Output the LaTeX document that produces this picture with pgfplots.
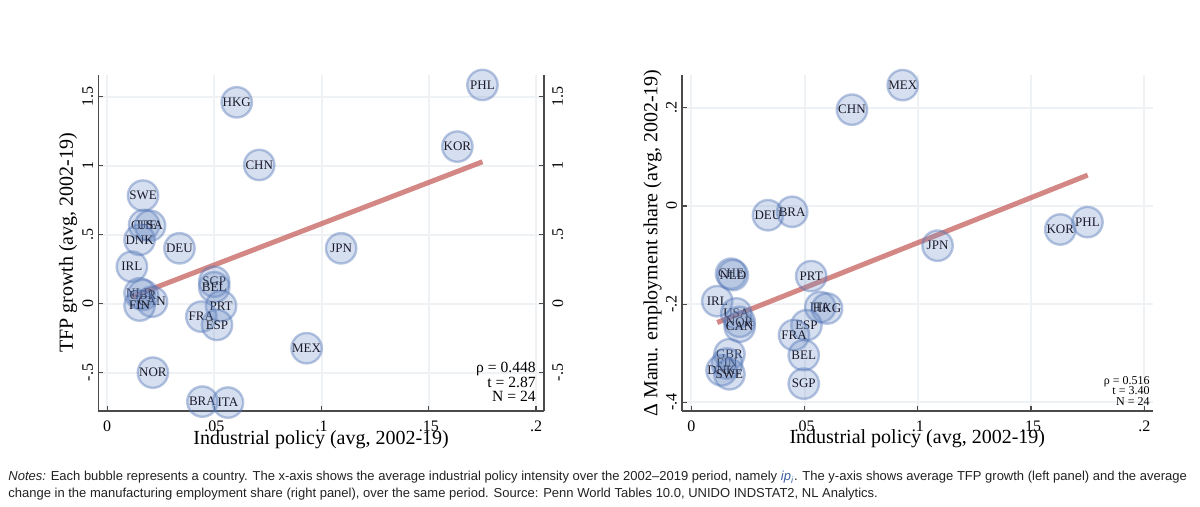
\documentclass[border=0pt]{standalone}
\usepackage{pgfplots}
\pgfplotsset{compat=1.18}
\usepackage{pgfplotstable}
\usepackage{fontspec}
\setmainfont{Liberation Serif}
\newfontfamily\notesfont{Liberation Sans}
\definecolor{bfill}{HTML}{6B8CC4}
\definecolor{bedge}{HTML}{5577B8}
\definecolor{fitred}{HTML}{C0504D}
\definecolor{gridc}{HTML}{EFF2F5}
\definecolor{axc}{HTML}{4A4A4A}
\definecolor{ipblue}{HTML}{3A5FA0}
\definecolor{notec}{HTML}{222222}
\definecolor{labc}{HTML}{1A1A2A}

\pgfplotstableread{
x y lab
0.1750 1.585 PHL
0.0604 1.459 HKG
0.1633 1.138 KOR
0.0709 1.005 CHN
0.0167 0.783 SWE
0.0172 0.570 CHE
0.0200 0.565 USA
0.0151 0.462 DNK
0.0337 0.401 DEU
0.1091 0.401 JPN
0.0115 0.268 IRL
0.0499 0.159 SGP
0.0499 0.119 BEL
0.0151 0.075 NLD
0.0167 0.063 GBR
0.0209 0.014 CAN
0.0151 -0.014 FIN
0.0531 -0.017 PRT
0.0439 -0.094 FRA
0.0512 -0.154 ESP
0.0930 -0.323 MEX
0.0213 -0.500 NOR
0.0444 -0.710 BRA
0.0563 -0.717 ITA
}\tfp

\pgfplotstableread{
x y lab
0.0933 0.246 MEX
0.0709 0.196 CHN
0.0338 -0.019 DEU
0.0445 -0.012 BRA
0.1629 -0.048 KOR
0.1749 -0.033 PHL
0.1087 -0.081 JPN
0.0175 -0.138 CHE
0.0183 -0.141 NLD
0.0529 -0.143 PRT
0.0114 -0.194 IRL
0.0198 -0.219 USA
0.0213 -0.236 NOR
0.0213 -0.246 CAN
0.0569 -0.206 ITA
0.0599 -0.209 HKG
0.0508 -0.243 ESP
0.0453 -0.263 FRA
0.0496 -0.304 BEL
0.0168 -0.302 GBR
0.0157 -0.321 FIN
0.0133 -0.335 DNK
0.0168 -0.343 SWE
0.0496 -0.362 SGP
}\emp

\pgfplotsset{
  commonstyle/.style={
    anchor=south west,
    scale only axis,
    height=168pt,
    xmin=-0.0042, xmax=0.2037,
    clip=false,
    axis x line*=bottom, axis y line*=left,
    axis line style={draw=axc, line width=0.6pt, -},
    tick style={draw=axc, line width=0.6pt},
    tick align=inside, major tick length=2.5pt,
    xtick={0,0.05,0.1,0.15,0.2}, xticklabels={0,.05,.1,.15,.2},
    xticklabel style={font=\fontsize{8}{9}\selectfont, inner sep=0pt, anchor=north, yshift=-4.6pt},
    yticklabel style={font=\fontsize{8}{9}\selectfont, rotate=90, anchor=south, inner sep=2.3pt},
    grid=major, grid style={draw=gridc, line width=1pt},
    label style={font=\fontsize{9.2}{10}\selectfont},
    every axis x label/.style={at={(axis description cs:0.5,-0.0853)}, anchor=center},
  },
  bubbles/.style={
    only marks, mark=*, mark size=7.6pt,
    mark options={fill=bfill, fill opacity=0.28, draw=bedge, draw opacity=0.42, line width=1.2pt},
    point meta=explicit symbolic,
    nodes near coords,
    every node near coord/.append style={anchor=center, inner sep=0pt, text=labc, opacity=1, text opacity=1, fill opacity=1, font=\fontsize{6.5}{7.5}\selectfont},
  },
  fitline/.style={draw=fitred, draw opacity=0.68, line width=2.5pt, no marks},
}

\begin{document}
\begin{tikzpicture}
\path[use as bounding box] (0,0) rectangle (600pt,253.5pt);

% ---------- left panel ----------
\begin{axis}[commonstyle,
  at={(49.1pt,48pt)}, width=222.9pt,
  ymin=-0.778, ymax=1.657,
  ytick={-0.5,0,0.5,1,1.5}, yticklabels={-.5,0,.5,1,1.5},
  xlabel={Industrial policy (avg, 2002-19)},
  ylabel={TFP growth (avg, 2002-19)},
  every axis y label/.style={at={(axis description cs:-0.0673,0.5)}, rotate=90, anchor=center},
]
\addplot[bubbles] table[x=x, y=y, meta=lab] {\tfp};
\addplot[fitline] coordinates {(0.0114,0.050) (0.1750,1.028)};
\node[anchor=east, align=right, inner sep=0pt, font=\fontsize{7.8}{7.3}\selectfont] at (axis cs:0.2,-0.567) {ρ = 0.448\\t = 2.87\\N = 24};
\end{axis}
\begin{axis}[
  anchor=south west, at={(49.1pt,48pt)}, scale only axis, width=222.9pt, height=168pt,
  xmin=-0.0042, xmax=0.2037, ymin=-0.778, ymax=1.657,
  axis x line=none, axis y line*=right,
  axis line style={draw=axc, line width=0.6pt, -},
  tick style={draw=axc, line width=0.6pt},
  tick align=inside, major tick length=2.5pt,
  ytick={-0.5,0,0.5,1,1.5}, yticklabels={-.5,0,.5,1,1.5},
  yticklabel style={font=\fontsize{8}{9}\selectfont, rotate=90, anchor=north, inner sep=4pt},
]
\addplot[draw=none] coordinates {(0,0)};
\end{axis}

% ---------- right panel ----------
\begin{axis}[commonstyle,
  at={(340.95pt,48pt)}, width=235.4pt,
  ymin=-0.4177, ymax=0.2666,
  ytick={-0.4,-0.2,0,0.2}, yticklabels={-.4,-.2,0,.2},
  xlabel={Industrial policy (avg, 2002-19)},
  ylabel={Δ Manu. employment share (avg, 2002-19)},
  every axis y label/.style={at={(axis description cs:-0.0624,0.5)}, rotate=90, anchor=center},
  every axis x label/.style={at={(axis description cs:0.5,-0.0833)}, anchor=center},
]
\addplot[bubbles] table[x=x, y=y, meta=lab] {\emp};
\addplot[fitline] coordinates {(0.0114,-0.2375) (0.1750,0.0627)};
\node[anchor=east, align=right, inner sep=0pt, font=\fontsize{6}{5.4}\selectfont] at (axis cs:0.2025,-0.377) {ρ = 0.516\\t = 3.40\\N = 24};
\end{axis}

% ---------- notes ----------
\node[anchor=base west, inner sep=0pt, text=notec, font=\notesfont\fontsize{6.5}{7.5}\selectfont] at (4pt,13pt)
 {\textit{Notes:} Each bubble represents a country. The x-axis shows the average industrial policy intensity over the 2002–2019 period, namely {\color{ipblue}\textit{ip\textsubscript{i}}}. The y-axis shows average TFP growth (left panel) and the average};
\node[anchor=base west, inner sep=0pt, text=notec, font=\notesfont\fontsize{6.5}{7.5}\selectfont] at (4pt,4.5pt)
 {change in the manufacturing employment share (right panel), over the same period. Source: Penn World Tables 10.0, UNIDO INDSTAT2, NL Analytics.};
\end{tikzpicture}
\end{document}
